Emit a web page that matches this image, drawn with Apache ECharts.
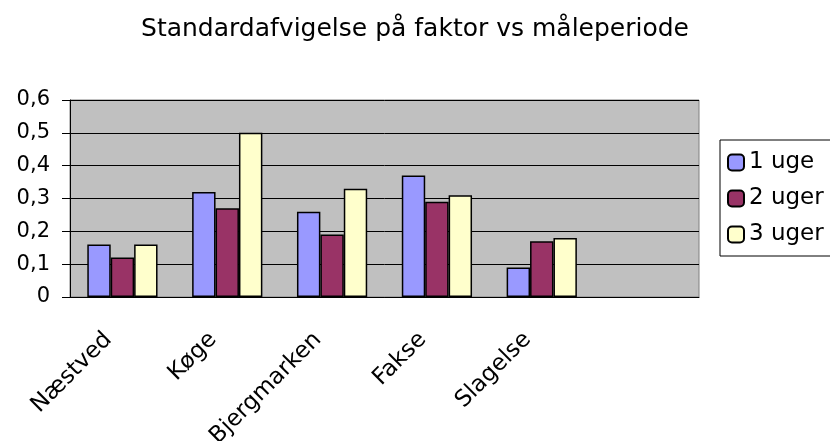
<!DOCTYPE html>
<html>
<head>
<meta charset="utf-8">
<script src="https://cdn.jsdelivr.net/npm/echarts@6/dist/echarts.min.js"></script>
<style>
  html, body { margin: 0; padding: 0; background: #fff; }
  #chart { width: 830px; height: 441px; }
</style>
</head>
<body>
<div id="chart"></div>
<script>
// data
var categories = ['Næstved', 'Køge', 'Bjergmarken', 'Fakse', 'Slagelse', ''];
var uge1 = [0.16, 0.32, 0.26, 0.37, 0.09, null];
var uger2 = [0.12, 0.27, 0.19, 0.29, 0.17, null];
var uger3 = [0.16, 0.50, 0.33, 0.31, 0.18, null];
var seriesNames = ['1 uge', '2 uger', '3 uger'];
var yTicks = [0, 0.1, 0.2, 0.3, 0.4, 0.5, 0.6];

var font = '"DejaVu Sans", "Liberation Sans", Arial, sans-serif';
var colors = ['#9999FF', '#993366', '#FFFFCC'];

var chart = echarts.init(document.getElementById('chart'));

function barSeries(name, values, color) {
    return {
        name: name,
        type: 'bar',
        data: values,
        barGap: '0%',
        barCategoryGap: '33%',
        itemStyle: { color: color, borderColor: '#000', borderWidth: 1.5 },
        emphasis: { disabled: true }
    };
}

var option = {
    animation: false,
    textStyle: { fontFamily: font },
    title: {
        text: 'Standardafvigelse på faktor vs måleperiode',
        left: 'center',
        top: 12,
        textStyle: { fontFamily: font, fontSize: 25, fontWeight: 'normal', color: '#000' }
    },
    legend: {
        orient: 'vertical',
        left: 720,
        top: 140,
        padding: [11, 20, 10, 7],
        itemGap: 13,
        itemWidth: 16,
        itemHeight: 16,
        borderColor: '#000',
        borderWidth: 1,
        data: seriesNames,
        textStyle: { fontFamily: font, fontSize: 23, color: '#000' }
    },
    grid: {
        left: 70,
        right: 131,
        top: 100,
        bottom: 144,
        outerBoundsMode: 'none',
        show: true,
        backgroundColor: '#C0C0C0',
        borderColor: '#808080',
        borderWidth: 1
    },
    xAxis: {
        type: 'category',
        data: categories,
        axisLine: { lineStyle: { color: '#000', width: 1 } },
        axisTick: { length: 8, lineStyle: { color: '#000' } },
        axisLabel: {
            interval: 0,
            rotate: 45,
            margin: 25,
            padding: [0, 20, 0, 0],
            fontFamily: font,
            fontSize: 23,
            color: '#000'
        }
    },
    yAxis: {
        type: 'value',
        min: yTicks[0],
        max: yTicks[yTicks.length - 1],
        interval: 0.1,
        axisLine: { show: true, lineStyle: { color: '#000', width: 1 } },
        axisTick: { show: true, length: 8, lineStyle: { color: '#000' } },
        splitLine: { lineStyle: { color: '#000', width: 1 } },
        axisLabel: {
            margin: 20,
            fontFamily: font,
            fontSize: 21,
            color: '#000',
            formatter: function (v) { return String(Math.round(v * 10) / 10).replace('.', ','); }
        }
    },
    series: [
        barSeries(seriesNames[0], uge1, colors[0]),
        barSeries(seriesNames[1], uger2, colors[1]),
        barSeries(seriesNames[2], uger3, colors[2])
    ]
};
chart.setOption(option);
</script>
</body>
</html>
